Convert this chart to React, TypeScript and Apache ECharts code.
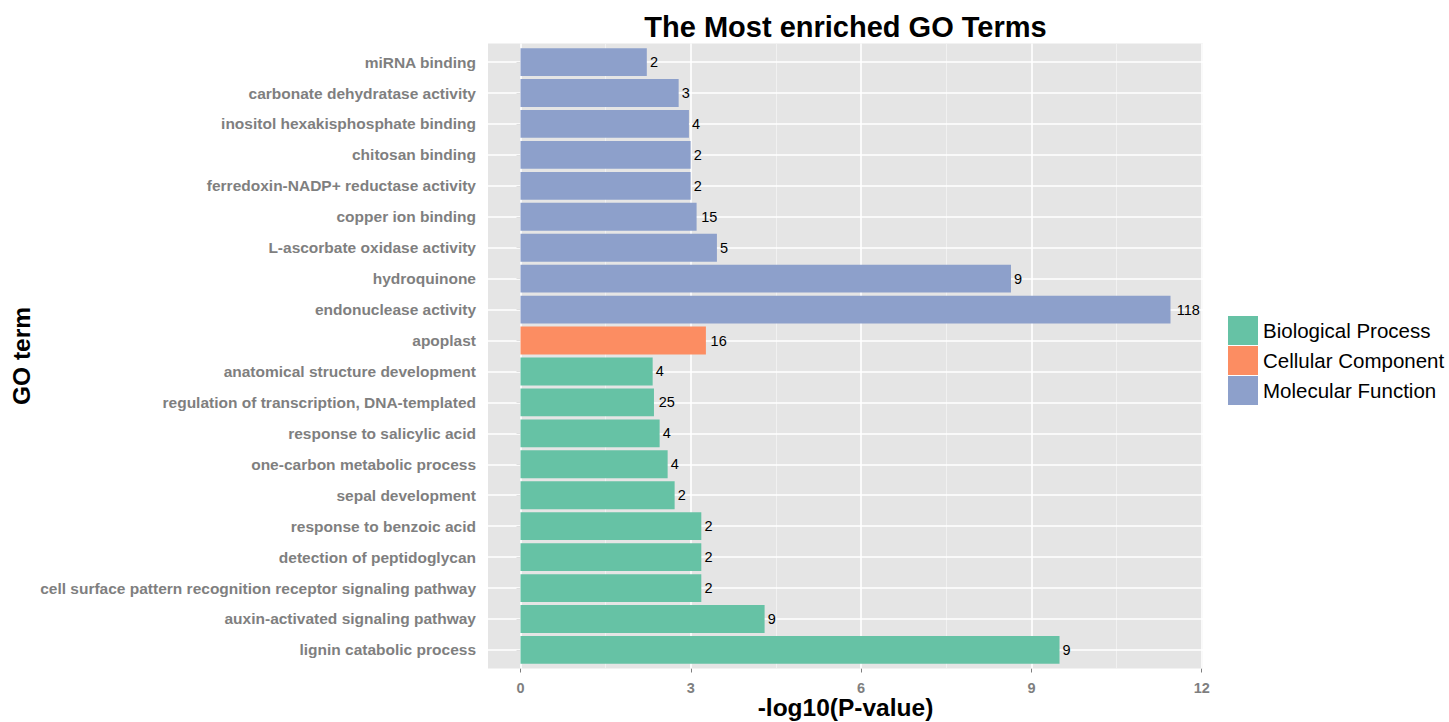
import React, { useEffect, useRef } from "react";
import * as echarts from "echarts";

// GO terms, listed bottom to top as they appear on the y axis
const terms = [
  "lignin catabolic process",
  "auxin-activated signaling pathway",
  "cell surface pattern recognition receptor signaling pathway",
  "detection of peptidoglycan",
  "response to benzoic acid",
  "sepal development",
  "one-carbon metabolic process",
  "response to salicylic acid",
  "regulation of transcription, DNA-templated",
  "anatomical structure development",
  "apoplast",
  "endonuclease activity",
  "hydroquinone",
  "L-ascorbate oxidase activity",
  "copper ion binding",
  "ferredoxin-NADP+ reductase activity",
  "chitosan binding",
  "inositol hexakisphosphate binding",
  "carbonate dehydratase activity",
  "miRNA binding",
];

// -log10(P-value) per term
const negLogP = [
  9.495, 4.3, 3.185, 3.185, 3.185, 2.715, 2.592, 2.451, 2.351, 2.328,
  3.266, 11.45, 8.64, 3.46, 3.102, 2.997, 2.997, 2.967, 2.786, 2.225,
];

// gene counts shown next to each bar
const geneCounts = [9, 9, 2, 2, 2, 2, 4, 4, 25, 4, 16, 118, 9, 5, 15, 2, 2, 4, 3, 2];

// ontology of each term
const ontology = [
  "Biological Process", "Biological Process", "Biological Process", "Biological Process",
  "Biological Process", "Biological Process", "Biological Process", "Biological Process",
  "Biological Process", "Biological Process", "Cellular Component",
  "Molecular Function", "Molecular Function", "Molecular Function", "Molecular Function",
  "Molecular Function", "Molecular Function", "Molecular Function", "Molecular Function",
  "Molecular Function",
];

const groups = ["Biological Process", "Cellular Component", "Molecular Function"];
const groupColors = ["#66C2A5", "#FC8D62", "#8DA0CB"];

const xTicks = [0, 3, 6, 9, 12];
const xMinorLines = [1.5, 4.5, 7.5, 10.5];

export default function App() {
  const ref = useRef<HTMLDivElement>(null);

  useEffect(() => {
    if (!ref.current) return;
    const chart = echarts.init(ref.current, null, { renderer: "svg" });

    // continuous axis padded by 5% of the data range on each side
    const dataMax = Math.max(...negLogP);
    const pad = dataMax * 0.05;
    const xMin = -pad;
    const xMax = dataMax + pad;

    // panel geometry; the discrete axis is padded by 0.6 of a band on each end
    const panelLeft = 488;
    const panelTop = 43.5;
    const panelW = 715;
    const panelH = 625;
    const unit = panelH / (terms.length + 0.2);

    const font = "'Liberation Sans', Arial, Helvetica, sans-serif";

    const barSeries = groups.map((g, gi) => ({
      name: g,
      type: "bar",
      stack: "go",
      xAxisIndex: 1,
      yAxisIndex: 1,
      barCategoryGap: "10%",
      z: 10,
      itemStyle: { color: groupColors[gi] },
      label: {
        show: true,
        position: "right",
        color: "#000",
        fontSize: 14.5,
        fontFamily: font,
        formatter: (p: any) => String(geneCounts[p.dataIndex]),
      },
      data: negLogP.map((v, i) =>
        ontology[i] === g
          ? {
              value: v,
              // label nudged right in proportion to its own width
              label: { distance: 1.5 + 1.6 * String(geneCounts[i]).length },
            }
          : "-"
      ),
    }));

    const majorStyle = { color: "#FFFFFF", width: 1.6, type: "solid" };
    const minorStyle = { color: "#F2F2F2", width: 0.9, type: "solid" };

    const gridSeries = {
      name: "grid",
      type: "line",
      xAxisIndex: 0,
      yAxisIndex: 0,
      data: [],
      silent: true,
      markLine: {
        silent: true,
        symbol: "none",
        animation: false,
        label: { show: false },
        data: [
          ...xMinorLines.map((v) => ({ xAxis: v, lineStyle: minorStyle })),
          ...xTicks.map((v) => ({ xAxis: v, lineStyle: majorStyle })),
          ...terms.map((_, i) => ({ yAxis: i + 1, lineStyle: majorStyle })),
        ],
      },
    };

    chart.setOption({
      animation: false,
      backgroundColor: "#FFFFFF",
      textStyle: { fontFamily: font },
      graphic: [
        {
          type: "text",
          x: panelLeft + panelW / 2,
          y: 27,
          style: {
            text: "The Most enriched GO Terms",
            fill: "#000",
            font: `bold 29px ${font}`,
            textAlign: "center",
            textVerticalAlign: "middle",
          },
        },
        {
          // x axis title
          type: "text",
          x: panelLeft + panelW / 2,
          y: 707,
          style: {
            text: "-log10(P-value)",
            fill: "#000",
            font: `bold 24.5px ${font}`,
            textAlign: "center",
            textVerticalAlign: "middle",
          },
        },
      ],
      legend: {
        data: groups,
        orient: "vertical",
        left: 1228,
        top: 316,
        padding: 0,
        itemWidth: 30,
        itemHeight: 29,
        itemGap: 1,
        icon: "rect",
        textStyle: { fontSize: 20.5, color: "#000", fontFamily: font },
      },
      grid: [
        {
          left: panelLeft,
          top: panelTop,
          width: panelW,
          height: panelH,
          show: true,
          backgroundColor: "#E5E5E5",
          borderWidth: 0,
          outerBoundsMode: "none",
          containLabel: false,
        },
        {
          left: panelLeft,
          top: panelTop + unit * 0.1,
          width: panelW,
          height: unit * terms.length,
          show: false,
          outerBoundsMode: "none",
          containLabel: false,
        },
      ],
      xAxis: [
        {
          type: "value",
          gridIndex: 0,
          min: xMin,
          max: xMax,
          axisLine: { show: false },
          splitLine: { show: false },
          axisTick: {
            show: true,
            customValues: xTicks,
            length: 4,
            lineStyle: { color: "#7F7F7F", width: 1 },
          },
          axisLabel: {
            customValues: xTicks,
            color: "#7F7F7F",
            fontSize: 14.5,
            fontWeight: "bold",
            margin: 12,
            fontFamily: font,
          },
        },
        {
          type: "value",
          gridIndex: 1,
          min: xMin,
          max: xMax,
          show: false,
        },
      ],
      yAxis: [
        {
          type: "value",
          gridIndex: 0,
          min: 0.4,
          max: terms.length + 0.6,
          show: false,
        },
        {
          type: "category",
          gridIndex: 1,
          data: terms,
          name: "GO term",
          nameLocation: "middle",
          nameRotate: 90,
          nameGap: 454,
          nameTextStyle: { fontSize: 24.5, fontWeight: "bold", color: "#000", fontFamily: font },
          axisLine: { show: false },
          axisTick: {
            show: true,
            alignWithLabel: true,
            length: 4,
            lineStyle: { color: "#7F7F7F", width: 1 },
          },
          axisLabel: {
            color: "#7F7F7F",
            fontSize: 15.5,
            fontWeight: "bold",
            margin: 12,
            fontFamily: font,
          },
          splitLine: { show: false },
        },
      ],
      series: [gridSeries, ...barSeries],
    });

    return () => chart.dispose();
  }, []);

  return (
    <div
      ref={ref}
      style={{ position: "fixed", left: 0, top: 0, width: 1449, height: 722 }}
    />
  );
}
